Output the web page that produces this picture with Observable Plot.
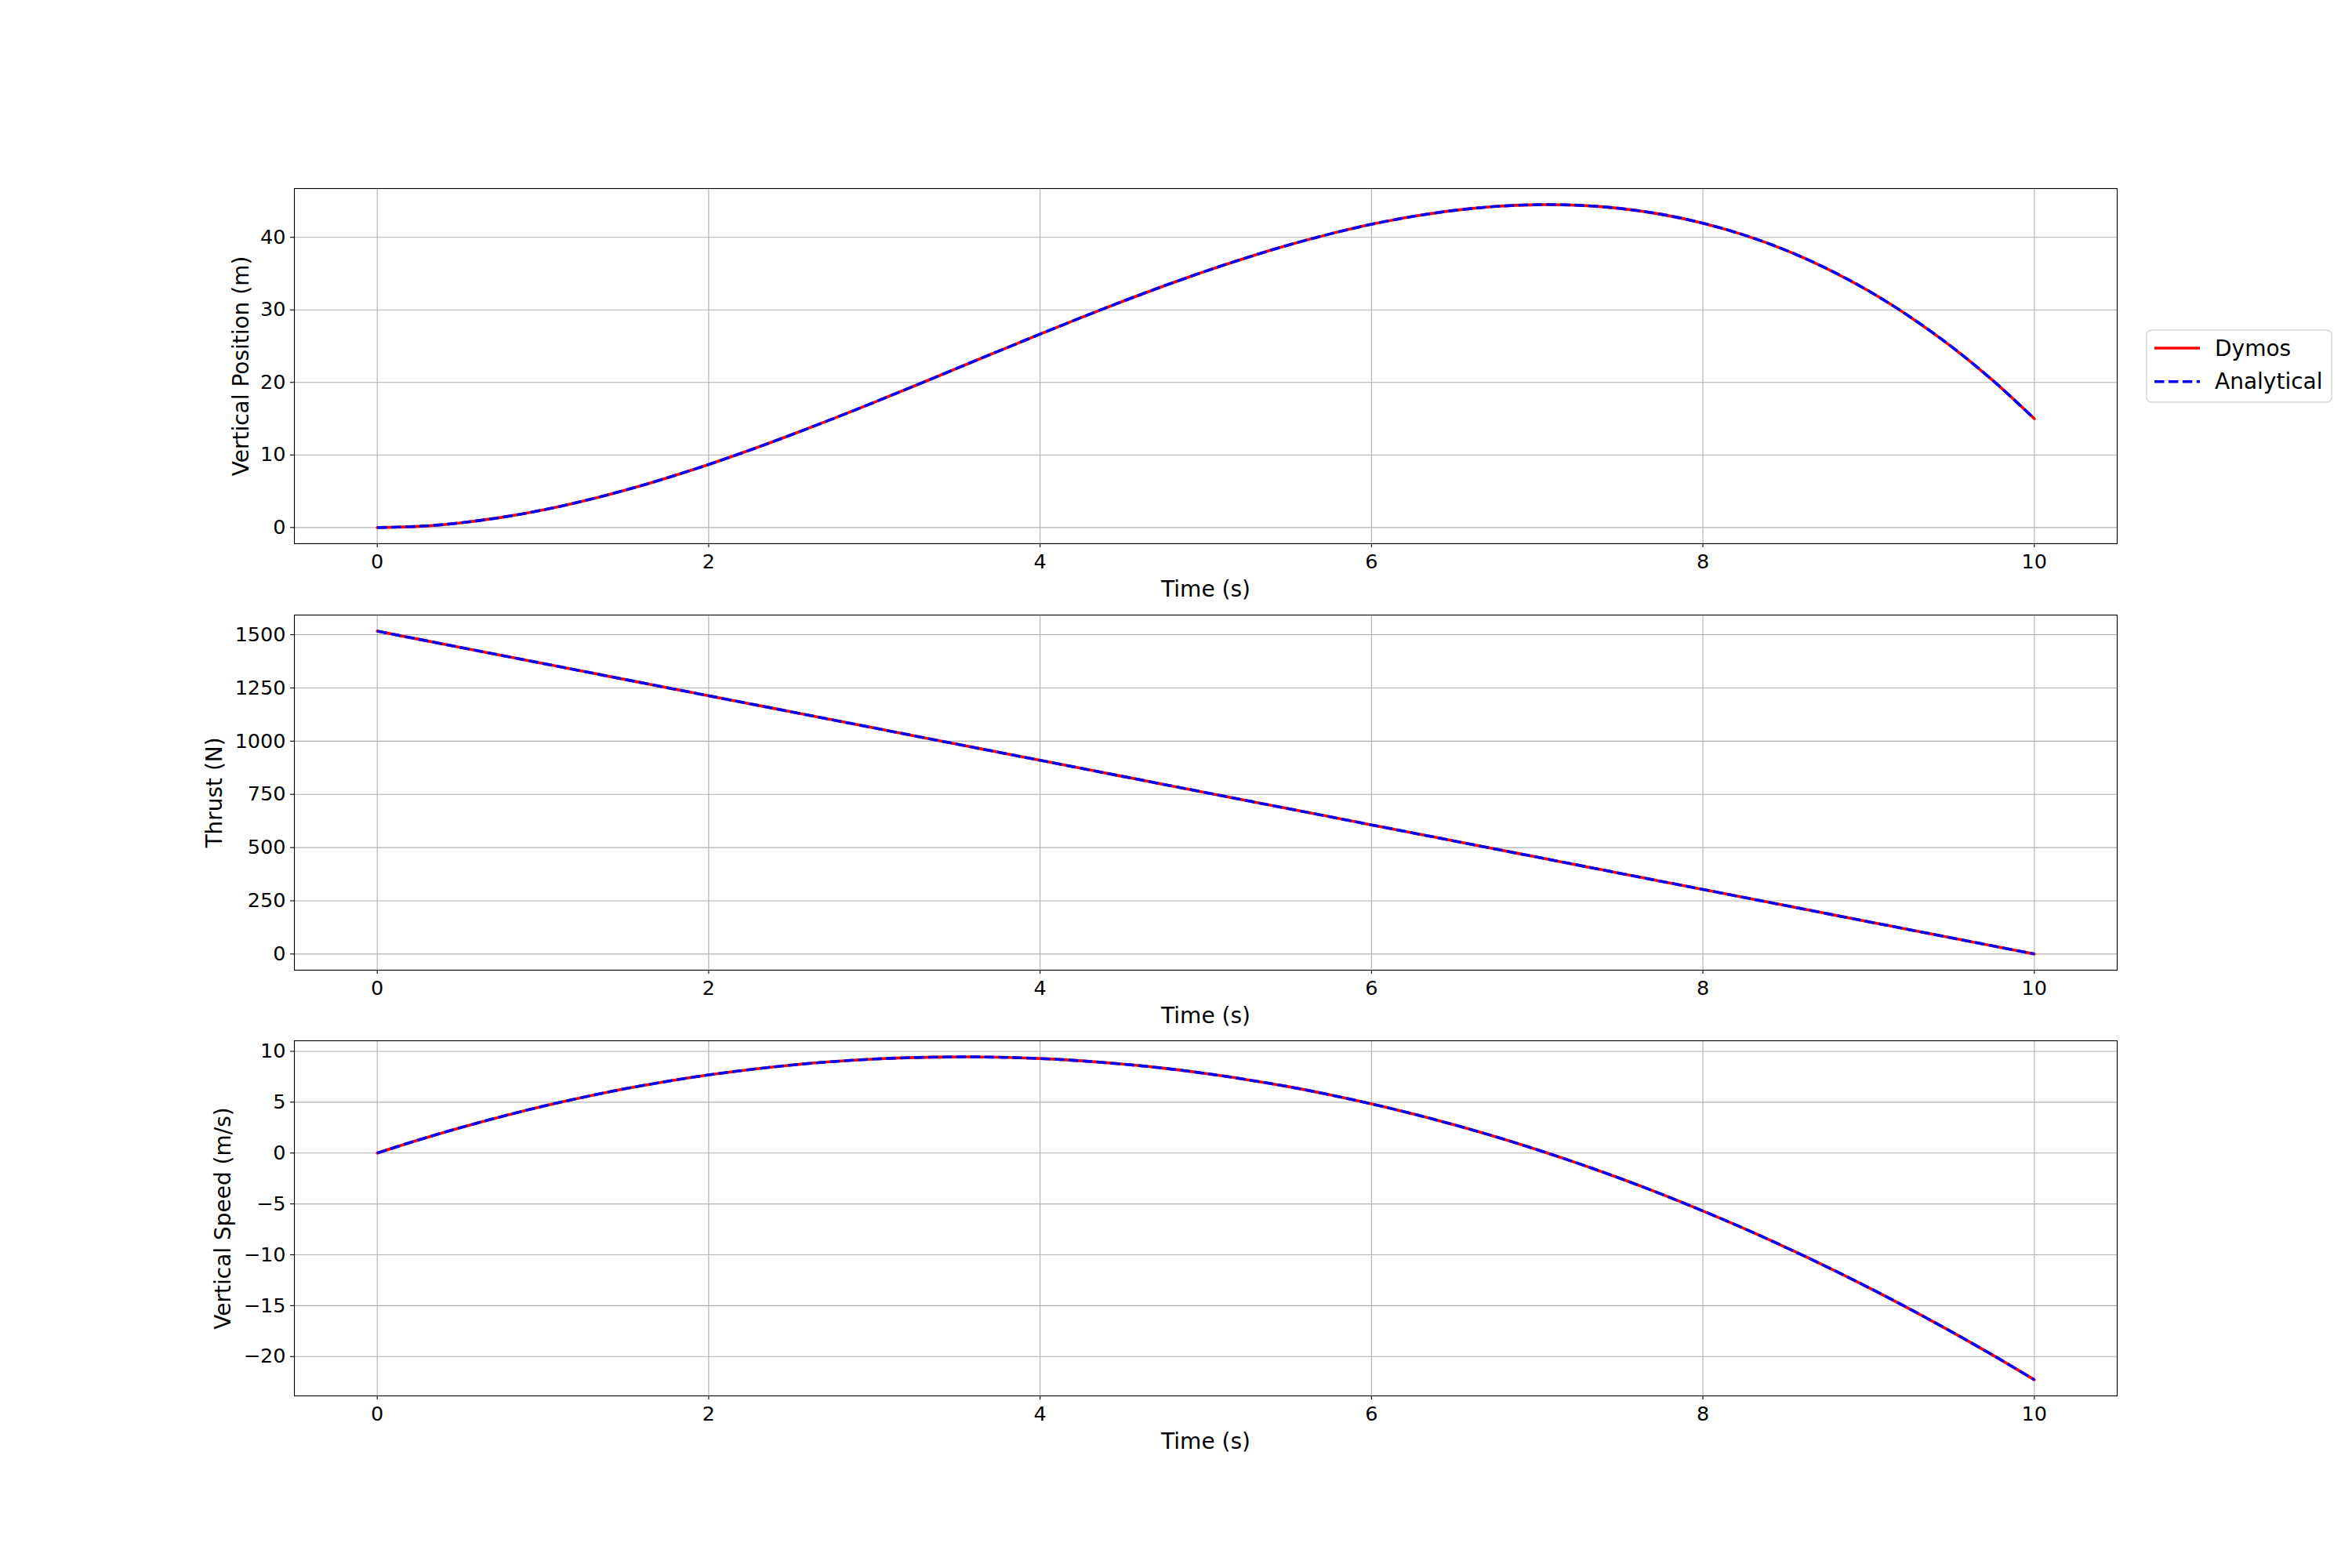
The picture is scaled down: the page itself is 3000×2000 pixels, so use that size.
<!DOCTYPE html>
<html><head><meta charset="utf-8">
<script src="https://cdn.jsdelivr.net/npm/d3@7"></script>
<script src="https://cdn.jsdelivr.net/npm/@observablehq/plot@0.6"></script>
<style>
html,body{margin:0;padding:0;background:#fff;overflow:hidden;}
#fig{position:relative;width:3000px;height:2000px;background:#fff;font-family:"DejaVu Sans",sans-serif;}
.panel{position:absolute;left:0;}
#legend{position:absolute;left:2737px;top:420px;}
</style></head><body><div id="fig"></div>
<script>
// ---- data ----
const time = [0,0.25,0.5,0.75,1,1.25,1.5,1.75,2,2.25,2.5,2.75,3,3.25,3.5,3.75,4,4.25,4.5,4.75,5,5.25,5.5,5.75,6,6.25,6.5,6.75,7,7.25,7.5,7.75,8,8.25,8.5,8.75,9,9.25,9.5,9.75,10];
const dymosPosition = [0,0.16,0.64,1.40,2.42,3.69,5.17,6.85,8.69,10.68,12.79,14.99,17.27,19.60,21.96,24.32,26.66,28.96,31.19,33.32,35.34,37.22,38.94,40.47,41.80,42.88,43.71,44.26,44.50,44.42,43.98,43.17,41.95,40.31,38.23,35.67,32.62,29.04,24.94,20.27,15.00];
const analyticalPosition = [0,0.16,0.64,1.40,2.42,3.69,5.17,6.85,8.69,10.68,12.79,14.99,17.27,19.60,21.96,24.32,26.66,28.96,31.19,33.32,35.34,37.22,38.94,40.47,41.80,42.88,43.71,44.26,44.50,44.42,43.98,43.17,41.95,40.31,38.23,35.67,32.62,29.04,24.94,20.27,15.00];
const dymosThrust = [1516.5,1478.6,1440.7,1402.8,1364.9,1326.9,1289.0,1251.1,1213.2,1175.3,1137.4,1099.5,1061.6,1023.6,985.7,947.8,909.9,872.0,834.1,796.2,758.3,720.3,682.4,644.5,606.6,568.7,530.8,492.9,455.0,417.0,379.1,341.2,303.3,265.4,227.5,189.6,151.7,113.7,75.8,37.9,0];
const analyticalThrust = [1516.5,1478.6,1440.7,1402.8,1364.9,1326.9,1289.0,1251.1,1213.2,1175.3,1137.4,1099.5,1061.6,1023.6,985.7,947.8,909.9,872.0,834.1,796.2,758.3,720.3,682.4,644.5,606.6,568.7,530.8,492.9,455.0,417.0,379.1,341.2,303.3,265.4,227.5,189.6,151.7,113.7,75.8,37.9,0];
const dymosSpeed = [0,1.29,2.49,3.59,4.60,5.51,6.33,7.05,7.68,8.21,8.65,8.99,9.24,9.39,9.45,9.42,9.29,9.06,8.74,8.33,7.82,7.21,6.52,5.72,4.83,3.85,2.77,1.60,0.33,-1.03,-2.49,-4.04,-5.69,-7.43,-9.27,-11.20,-13.22,-15.34,-17.56,-19.87,-22.28];
const analyticalSpeed = [0,1.29,2.49,3.59,4.60,5.51,6.33,7.05,7.68,8.21,8.65,8.99,9.24,9.39,9.45,9.42,9.29,9.06,8.74,8.33,7.82,7.21,6.52,5.72,4.83,3.85,2.77,1.60,0.33,-1.03,-2.49,-4.04,-5.69,-7.43,-9.27,-11.20,-13.22,-15.34,-17.56,-19.87,-22.28];
const timeTicks = [0,2,4,6,8,10];
const positionTicks = [0,10,20,30,40];
const thrustTicks = [0,250,500,750,1000,1250,1500];
const speedTicks = [-20,-15,-10,-5,0,5,10];
const seriesNames = ["Dymos","Analytical"];
const xLabel = "Time (s)";
const yLabels = ["Vertical Position (m)","Thrust (N)","Vertical Speed (m/s)"];

// ---- layout ----
const AXH = 452.94, MT = 40, MB = 110;
const tops = [240, 783.53, 1327.06];
const fmt = d => (d < 0 ? "\u2212" + Math.abs(d) : String(d));
const pad = (vals) => { const lo = d3.min(vals), hi = d3.max(vals), m = (hi - lo) * 0.05; return [lo - m, hi + m]; };
const fig = document.getElementById("fig");

function panel(i, dvals, avals, yTicks, labelOffset) {
  const rows = time.map((t, k) => ({t, d: dvals[k], a: avals[k]}));
  const p = Plot.plot({
    width: 3000, height: AXH + MT + MB,
    marginLeft: 375, marginRight: 300, marginTop: MT, marginBottom: MB,
    style: {fontFamily: "DejaVu Sans", fontSize: "25.5px", background: "transparent", overflow: "visible", color: "black"},
    x: {domain: pad(time)},
    y: {domain: pad(dvals.concat(avals))},
    marks: [
      Plot.gridX(timeTicks, {stroke: "#b0b0b0", strokeOpacity: 1, strokeWidth: 1.1}),
      Plot.gridY(yTicks, {stroke: "#b0b0b0", strokeOpacity: 1, strokeWidth: 1.1}),
      Plot.line(rows, {x: "t", y: "d", stroke: "red", strokeWidth: 3.6, curve: "catmull-rom"}),
      Plot.line(rows, {x: "t", y: "a", stroke: "blue", strokeWidth: 3.6, strokeDasharray: "12.5,5.4", strokeLinecap: "butt", curve: "catmull-rom"}),
      Plot.frame({stroke: "black", strokeWidth: 1.1}),
      Plot.axisX(timeTicks, {tickSize: 5, tickPadding: 8, strokeWidth: 1.1, tickFormat: fmt, label: null}),
      Plot.axisX([], {tickSize: 0, label: xLabel, labelAnchor: "center", labelArrow: "none", labelOffset: 68, fontSize: 28}),
      Plot.axisY(yTicks, {tickSize: 5, tickPadding: 6, strokeWidth: 1.1, tickFormat: fmt, label: null}),
      Plot.axisY([], {tickSize: 0, label: yLabels[i], labelAnchor: "center", labelArrow: "none", labelOffset: labelOffset, fontSize: 28})
    ]
  });
  p.classList.add("panel");
  p.style.top = (tops[i] - MT) + "px";
  fig.appendChild(p);
}
panel(0, dymosPosition, analyticalPosition, positionTicks, 78);
panel(1, dymosThrust, analyticalThrust, thrustTicks, 112);
panel(2, dymosSpeed, analyticalSpeed, speedTicks, 101);

// ---- legend ----
const ns = "http://www.w3.org/2000/svg";
const lg = document.createElementNS(ns, "svg");
lg.setAttribute("id", "legend"); lg.setAttribute("width", 240); lg.setAttribute("height", 96);
const styles = [{stroke: "red", dash: null}, {stroke: "blue", dash: "12.5,5.4"}];
let html = `<rect x="1" y="1" width="236" height="92" rx="6" ry="6" fill="white" stroke="#d6d6d6" stroke-width="1.5"/>`;
seriesNames.forEach((name, k) => {
  const ly = 24 + k * 42.7;
  html += `<line x1="11" x2="69" y1="${ly}" y2="${ly}" stroke="${styles[k].stroke}" stroke-width="3.6" ${styles[k].dash ? `stroke-dasharray="${styles[k].dash}"` : ""}/>`;
  html += `<text x="88" y="${ly + 9.5}" font-family="DejaVu Sans" font-size="28" fill="black">${name}</text>`;
});
lg.innerHTML = html;
fig.appendChild(lg);
</script></body></html>
